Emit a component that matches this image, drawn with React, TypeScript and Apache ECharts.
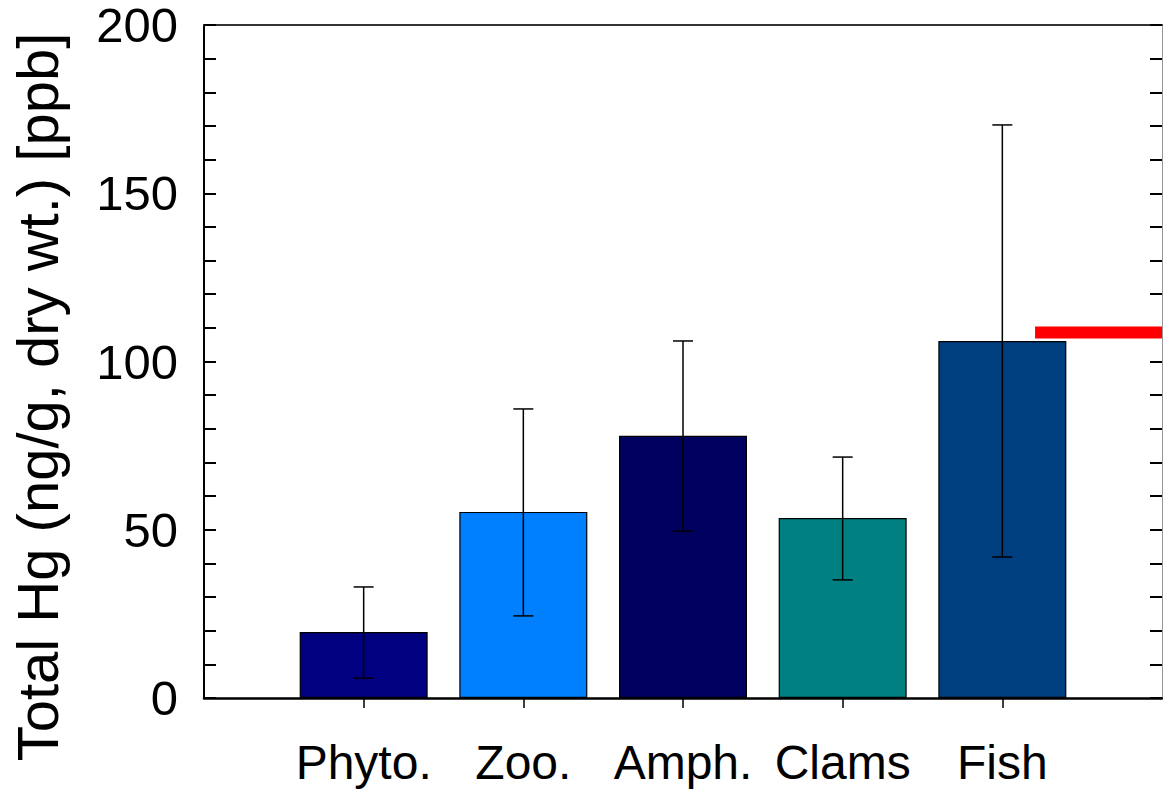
import React, { useEffect, useRef } from "react";
import * as echarts from "echarts";

const categories = ["Phyto.", "Zoo.", "Amph.", "Clams", "Fish"];
const meanValues = [19.6, 55.3, 77.9, 53.5, 106.1];
const errLow = [5.9, 24.4, 49.6, 35.1, 41.9];
const errHigh = [33.0, 85.9, 106.1, 71.6, 170.3];
const barColors = ["#000080", "#0080FF", "#00005E", "#008080", "#003F7F"];
const refLineX = [5.205, 6];
const refLineValue = 108.6;
const yTitle = "Total Hg (ng/g, dry wt.) [ppb]";

export default function App() {
  const ref = useRef<HTMLDivElement>(null);
  useEffect(() => {
    const chart = echarts.init(ref.current!, null, { renderer: "svg" });
    const font = "Liberation Sans, Arial, Helvetica, sans-serif";
    const positions = categories.map((_, i) => i + 1);
    chart.setOption({
      animation: false,
      backgroundColor: "#ffffff",
      grid: { left: 204, right: 1, top: 25, bottom: 95, containLabel: false },
      xAxis: [
        {
          type: "value",
          min: 0,
          max: 6,
          interval: 1,
          position: "bottom",
          splitLine: { show: false },
          axisLine: { show: true, onZero: false, lineStyle: { color: "#000", width: 2.5 } },
          axisTick: {
            show: true,
            inside: false,
            length: 10,
            customValues: positions,
            lineStyle: { color: "#000", width: 1.5 },
          },
          axisLabel: {
            show: true,
            customValues: positions,
            formatter: (v: number) => categories[Math.round(v) - 1] ?? "",
            color: "#000",
            fontSize: 48,
            fontFamily: font,
            margin: 40,
          },
        },
        {
          type: "value",
          min: 0,
          max: 6,
          position: "top",
          splitLine: { show: false },
          axisLine: { show: true, onZero: false, lineStyle: { color: "#333", width: 2 } },
          axisTick: { show: false },
          axisLabel: { show: false },
        },
      ],
      yAxis: [
        {
          type: "value",
          min: 0,
          max: 200,
          interval: 50,
          position: "left",
          splitLine: { show: false },
          axisLine: { show: true, onZero: false, lineStyle: { color: "#000", width: 2 } },
          axisTick: { show: true, inside: true, length: 12, lineStyle: { color: "#000", width: 2 } },
          minorTick: { show: true, splitNumber: 5, length: 12, lineStyle: { color: "#000", width: 2 } },
          axisLabel: { color: "#000", fontSize: 49, lineHeight: 40, fontFamily: font, margin: 26 },
        },
        {
          type: "value",
          min: 0,
          max: 200,
          interval: 50,
          position: "right",
          splitLine: { show: false },
          axisLine: { show: true, onZero: false, lineStyle: { color: "#999", width: 1 } },
          axisTick: { show: true, inside: true, length: 12, lineStyle: { color: "#000", width: 2 } },
          minorTick: { show: true, splitNumber: 5, length: 12, lineStyle: { color: "#000", width: 2 } },
          axisLabel: { show: false },
        },
      ],
      graphic: [
        {
          type: "text",
          x: 37,
          y: 397,
          rotation: Math.PI / 2,
          style: {
            text: yTitle,
            fontSize: 58,
            fontFamily: font,
            fill: "#000",
            align: "center",
            verticalAlign: "middle",
          },
        },
      ],
      series: [
        {
          type: "bar",
          xAxisIndex: 0,
          yAxisIndex: 0,
          barWidth: 128,
          data: meanValues.map((v, i) => ({
            value: [i + 1, v],
            itemStyle: { color: barColors[i], borderColor: "#000", borderWidth: 1.2 },
          })),
        },
        {
          type: "custom",
          xAxisIndex: 0,
          yAxisIndex: 0,
          z: 5,
          data: meanValues.map((_, i) => [i + 1, errLow[i], errHigh[i]]),
          renderItem: (params: any, api: any) => {
            const x = api.value(0);
            const lo = api.coord([x, api.value(1)]);
            const hi = api.coord([x, api.value(2)]);
            const hw = 10;
            const style = { stroke: "#000", lineWidth: 1.5 };
            return {
              type: "group",
              children: [
                { type: "line", shape: { x1: lo[0], y1: lo[1], x2: hi[0], y2: hi[1] }, style },
                { type: "line", shape: { x1: lo[0] - hw, y1: lo[1], x2: lo[0] + hw, y2: lo[1] }, style },
                { type: "line", shape: { x1: hi[0] - hw, y1: hi[1], x2: hi[0] + hw, y2: hi[1] }, style },
              ],
            };
          },
        },
        {
          type: "line",
          xAxisIndex: 0,
          yAxisIndex: 0,
          symbol: "none",
          z: 6,
          lineStyle: { color: "#FF0000", width: 12, cap: "butt" },
          data: refLineX.map((x) => [x, refLineValue]),
        },
      ],
    });
    return () => chart.dispose();
  }, []);
  return (
    <div
      ref={ref}
      style={{ position: "fixed", left: 0, top: 0, width: 1163, height: 793, background: "#fff" }}
    />
  );
}
